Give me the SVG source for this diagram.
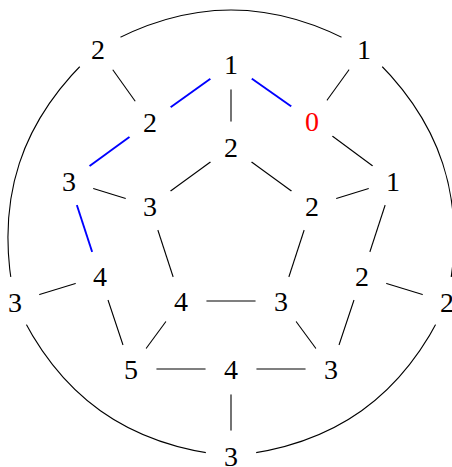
<svg xmlns="http://www.w3.org/2000/svg" width="452" height="467" viewBox="0 0 452 467">
<style>
.e{stroke:#000;stroke-width:1.1;fill:none}
.b{stroke:#0000ff;stroke-width:1.9;fill:none}
text{font-family:"Liberation Serif","DejaVu Serif",serif;font-size:28px;text-anchor:middle;fill:#000}
.r{fill:#ff0000}
</style>
<defs>
<mask id="gaps" maskUnits="userSpaceOnUse" x="-10" y="-10" width="472" height="487">
<rect x="-10" y="-10" width="472" height="487" fill="#fff"/>
<g fill="#000">
<circle cx="98" cy="49" r="25.5"/><circle cx="364" cy="49" r="25.5"/><circle cx="231" cy="64" r="25.5"/>
<circle cx="150" cy="122" r="25.5"/><circle cx="312" cy="121" r="25.5"/><circle cx="231" cy="147" r="25.5"/>
<circle cx="69" cy="181" r="25.5"/><circle cx="150" cy="206" r="25.5"/><circle cx="393" cy="181" r="25.5"/>
<circle cx="312" cy="206" r="25.5"/><circle cx="100" cy="276" r="25.5"/><circle cx="15" cy="302" r="25.5"/>
<circle cx="181" cy="301" r="25.5"/><circle cx="281" cy="301" r="25.5"/><circle cx="362" cy="276" r="25.5"/>
<circle cx="447" cy="302" r="25.5"/><circle cx="131" cy="369" r="25.5"/><circle cx="231" cy="369" r="25.5"/>
<circle cx="331" cy="369" r="25.5"/><circle cx="231" cy="456" r="25.5"/>
</g>
</mask>
</defs>
<g id="connectors" mask="url(#gaps)">
<path class="e" d="M98,49 C188,-3 274,-3 364,49"/>
<path class="e" d="M364,49 C441.7,118.6 468.4,199.9 447,302"/>
<path class="e" d="M447,302 C403.9,396.5 334.4,446.1 231,456"/>
<path class="e" d="M231,456 C127.6,446.1 58.1,396.5 15,302"/>
<path class="e" d="M15,302 C-6.4,199.9 20.3,118.6 98,49"/>
<line class="e" x1="98" y1="49" x2="150" y2="122"/>
<line class="e" x1="364" y1="49" x2="312" y2="121"/>
<line class="b" x1="231" y1="64" x2="150" y2="122"/>
<line class="b" x1="231" y1="64" x2="312" y2="121"/>
<line class="e" x1="231" y1="64" x2="231" y2="147"/>
<line class="b" x1="150" y1="122" x2="69" y2="181"/>
<line class="e" x1="312" y1="121" x2="393" y2="181"/>
<line class="e" x1="231" y1="147" x2="150" y2="206"/>
<line class="e" x1="231" y1="147" x2="312" y2="206"/>
<line class="e" x1="69" y1="181" x2="150" y2="206"/>
<line class="b" x1="69" y1="181" x2="100" y2="276"/>
<line class="e" x1="393" y1="181" x2="312" y2="206"/>
<line class="e" x1="393" y1="181" x2="362" y2="276"/>
<line class="e" x1="150" y1="206" x2="181" y2="301"/>
<line class="e" x1="312" y1="206" x2="281" y2="301"/>
<line class="e" x1="100" y1="276" x2="15" y2="302"/>
<line class="e" x1="100" y1="276" x2="131" y2="369"/>
<line class="e" x1="181" y1="301" x2="281" y2="301"/>
<line class="e" x1="181" y1="301" x2="131" y2="369"/>
<line class="e" x1="281" y1="301" x2="331" y2="369"/>
<line class="e" x1="362" y1="276" x2="331" y2="369"/>
<line class="e" x1="362" y1="276" x2="447" y2="302"/>
<line class="e" x1="131" y1="369" x2="231" y2="369"/>
<line class="e" x1="231" y1="369" x2="331" y2="369"/>
<line class="e" x1="231" y1="369" x2="231" y2="456"/>
</g>
<g id="nA"><text x="98" y="58.5">2</text></g>
<g id="nB"><text x="364" y="58.5">1</text></g>
<g id="nC"><text x="231" y="73.5">1</text></g>
<g id="nD"><text x="150" y="131.5">2</text></g>
<g id="nE"><text class="r" x="312" y="130.5">0</text></g>
<g id="nF"><text x="231" y="156.5">2</text></g>
<g id="nG"><text x="69" y="190.5">3</text></g>
<g id="nH"><text x="150" y="215.5">3</text></g>
<g id="nI"><text x="393" y="190.5">1</text></g>
<g id="nJ"><text x="312" y="215.5">2</text></g>
<g id="nK"><text x="100" y="285.5">4</text></g>
<g id="nL"><text x="15" y="311.5">3</text></g>
<g id="nM"><text x="181" y="310.5">4</text></g>
<g id="nN"><text x="281" y="310.5">3</text></g>
<g id="nO"><text x="362" y="285.5">2</text></g>
<g id="nP"><text x="447" y="311.5">2</text></g>
<g id="nQ"><text x="131" y="378.5">5</text></g>
<g id="nR"><text x="231" y="378.5">4</text></g>
<g id="nS"><text x="331" y="378.5">3</text></g>
<g id="nT"><text x="231" y="465.5">3</text></g>
</svg>
